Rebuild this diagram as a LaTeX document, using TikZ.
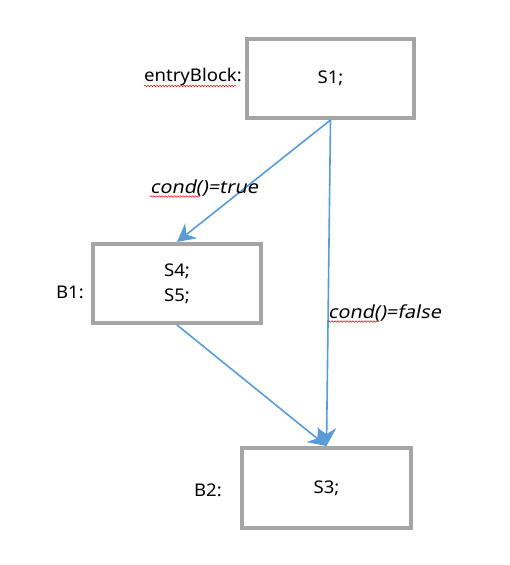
\documentclass[tikz,border=0pt]{standalone}
\usepackage{fontspec}
\setmainfont{Noto Sans}[FakeStretch=1.06]
\newfontfamily\oblfont{Noto Sans}[FakeSlant=0.2,FakeStretch=1.1]
\usetikzlibrary{arrows.meta,decorations.pathmorphing}
\definecolor{boxgray}{HTML}{A5A5A5}
\definecolor{linkblue}{HTML}{5B9BD5}
\begin{document}
\begin{tikzpicture}[x=1pt,y=-1pt,
  block/.style={draw=boxgray,line width=4pt,fill=white,inner sep=0pt,font=\fontsize{17.5}{25}\selectfont,align=center},
  lbl/.style={font=\fontsize{17.5}{21}\selectfont,inner sep=0pt},
  elbl/.style={font=\oblfont\fontsize{18}{21}\selectfont,inner sep=0pt},
  link/.style={draw=linkblue,line width=1.6pt,-{Stealth[length=18pt,width=19pt,inset=6pt]}},
  squig/.style={draw=red,line width=0.5pt,decorate,decoration={snake,amplitude=0.8pt,segment length=3pt}}]
\useasboundingbox (0,0) rectangle (509,565);
\node[block,minimum width=167pt,minimum height=79pt] (s1) at (330.5,78.5) {S1;};
\node[block,minimum width=168pt,minimum height=79pt] (b1) at (177,283.5) {S4;\\S5;};
\node[block,minimum width=169pt,minimum height=80pt] (b2) at (326.5,488) {S3;};
\node[lbl,anchor=east] (lentry) at (242,77) {entryBlock:};
\node[lbl] (lb1) at (70,292) {B1:};
\node[lbl] (lb2) at (208,490) {B2:};
\draw[link] (s1.south) -- (b1.north);
\draw[link] (s1.south) -- (b2.north);
\draw[link] (b1.south) -- (b2.north);
\node[elbl] (ctrue) at (204,188) {cond()=true};
\node[elbl,anchor=west] (cfalse) at (328,313) {cond()=false};
\draw[squig] (lentry.south west) -- ([xshift=-6pt]lentry.south east);
\draw[squig] (ctrue.south west) -- ([xshift=-58pt]ctrue.south east);
\draw[squig] (cfalse.south west) -- ([xshift=-62pt]cfalse.south east);
\end{tikzpicture}
\end{document}
